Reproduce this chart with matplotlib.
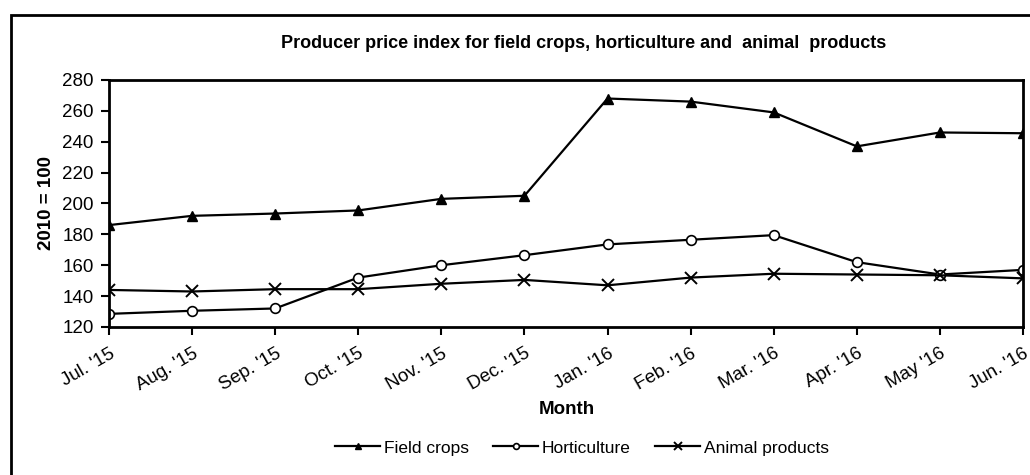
#!/usr/bin/env python3
"""
Producer price index for field crops, horticulture and animal products.
"""

import matplotlib.pyplot as plt
from matplotlib.patches import Rectangle

months = ["Jul. '15", "Aug. '15", "Sep. '15", "Oct. '15", "Nov. '15", "Dec. '15",
          "Jan. '16", "Feb. '16", "Mar. '16", "Apr. '16", "May '16", "Jun. '16"]
field_crops = [186, 192, 193.5, 195.5, 203, 205, 268, 266, 259, 237, 246, 245.5]
horticulture = [128.5, 130.5, 132, 152, 160, 166.5, 173.5, 176.5, 179.5, 162, 154, 157]
animal_products = [144, 143, 144.5, 144.5, 148, 150.5, 147, 152, 154.5, 154, 153.5, 151.5]

plt.rcParams['font.family'] = ['Liberation Sans', 'DejaVu Sans']

fig = plt.figure(figsize=(10.3, 4.75), dpi=100)
ax = fig.add_axes([0.1058, 0.3116, 0.8874, 0.52])

x = range(len(months))
ax.plot(x, field_crops, color='black', lw=1.6, marker='^', ms=7, label='Field crops')
ax.plot(x, horticulture, color='black', lw=1.6, marker='o', ms=7, mfc='white',
        mew=1.2, label='Horticulture')
ax.plot(x, animal_products, color='black', lw=1.6, marker='x', ms=9, mew=1.4,
        label='Animal products')

ax.set_xlim(0, len(months) - 1)
ax.set_ylim(120, 280)
ax.set_yticks(range(120, 281, 20))
ax.set_xticks(list(x))
ax.set_xticklabels(months, rotation=30, ha='right', rotation_mode='anchor')
ax.tick_params(axis='both', direction='out', length=6, width=1.5, labelsize=13.5,
               color='black')
ax.tick_params(axis='x', pad=7)
ax.tick_params(axis='y', pad=5)
for s in ax.spines.values():
    s.set_linewidth(2)

ax.set_ylabel('2010 = 100', fontsize=13.5, fontweight='bold', labelpad=5)
ax.set_xlabel('Month', fontsize=13.5, fontweight='bold', labelpad=6)
ax.xaxis.set_label_coords(0.5 + (567 - 566) / 914, -0.3)
fig.text(584 / 1030, 1 - 44 / 475,
         'Producer price index for field crops, horticulture and  animal  products',
         ha='center', va='center', fontsize=13, fontweight='bold')

ax.legend(loc='center', bbox_to_anchor=(582 / 1030, 1 - 448 / 475),
          bbox_transform=fig.transFigure, ncol=3, frameon=False, fontsize=12.5,
          handlelength=2.6, columnspacing=1.4, markerscale=0.6, handletextpad=0.2)

fig.patches.append(Rectangle((11 / 1030, -0.1), 1.2, 1.1 - 15 / 475,
                             transform=fig.transFigure, fill=False, lw=2,
                             edgecolor='black'))

fig.savefig('out.png', dpi=100)
